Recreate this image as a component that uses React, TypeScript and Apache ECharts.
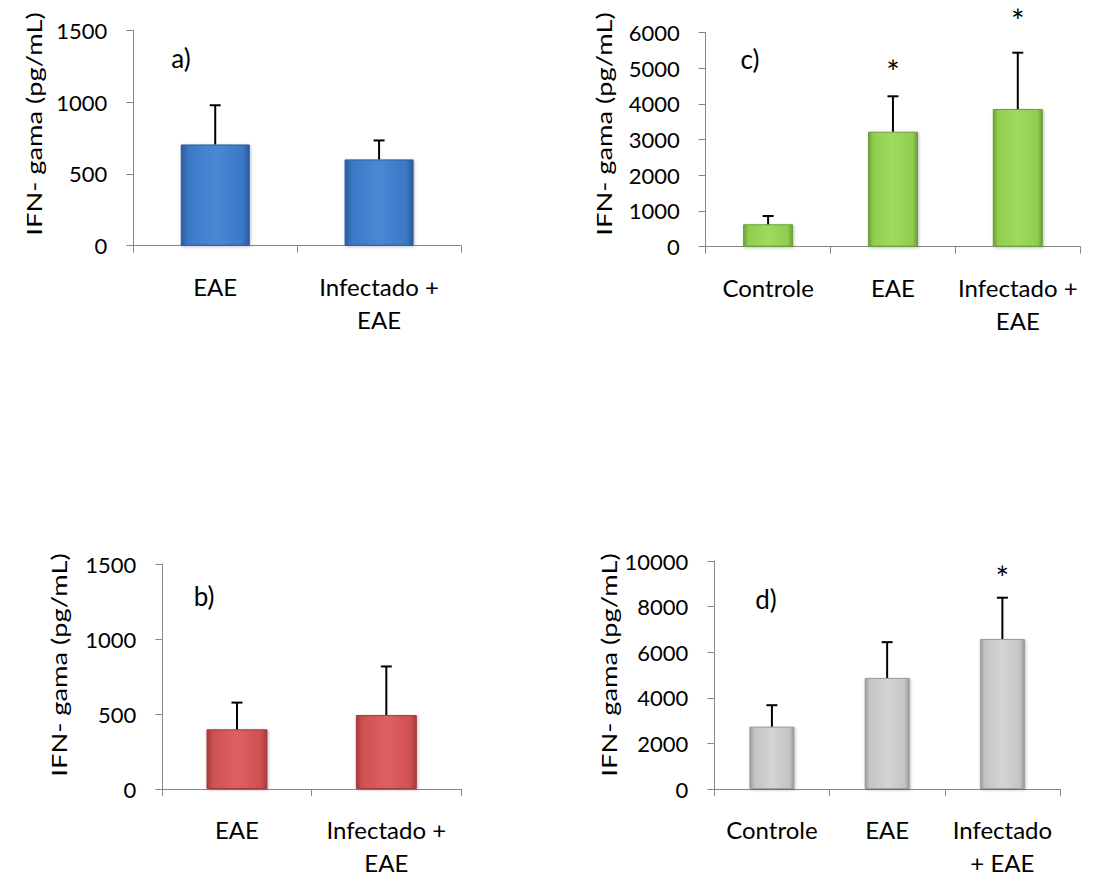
import React, { useEffect, useRef } from "react";
import * as echarts from "echarts";

const FONT = "Lato";

// ---- data ----
const categoriesA = ["EAE", "Infectado +\nEAE"];
const meansA = [705, 601];
const errorsA = [273, 132];

const categoriesB = ["EAE", "Infectado +\nEAE"];
const meansB = [398, 493];
const errorsB = [178, 324];

const categoriesC = ["Controle", "EAE", "Infectado +\nEAE"];
const meansC = [627, 3218, 3853];
const errorsC = [232, 991, 1576];
const starsC = ["", "*", "*"];
const starLevelC = [0, 5037, 6484];

const categoriesD = ["Controle", "EAE", "Infectado\n+ EAE"];
const meansD = [2735, 4872, 6581];
const errorsD = [940, 1568, 1809];
const starsD = ["", "", "*"];
const starLevelD = [0, 0, 9474];

const yMaxA = 1500, yStepA = 500;
const yMaxB = 1500, yStepB = 500;
const yMaxC = 6000, yStepC = 1000;
const yMaxD = 10000, yStepD = 2000;

const yTitle = "IFN- gama (pg/mL)";

// ---- styles ----
const palettes = {
  blue: { edge: "#2b5c9c", body: "#3b78c6", light: "#4a88d4" },
  red: { edge: "#a53b3b", body: "#cf5050", light: "#dc6262" },
  green: { edge: "#6c9f3a", body: "#8fce4e", light: "#9edb5e" },
  gray: { edge: "#9a9a9a", body: "#c4c4c4", light: "#d4d4d4" },
};

const panels = [
  { key: "a", cats: categoriesA, means: meansA, errs: errorsA, stars: null, starLevels: null,
    max: yMaxA, step: yStepA, pal: palettes.blue, barWidth: 69,
    grid: { left: 133.3, top: 30.3, width: 327.7, height: 215.4 },
    label: [181, 58], title: [33.5, 124] },
  { key: "c", cats: categoriesC, means: meansC, errs: errorsC, stars: starsC, starLevels: starLevelC,
    max: yMaxC, step: yStepC, pal: palettes.green, barWidth: 50,
    grid: { left: 705.7, top: 32.3, width: 374.5, height: 214.4 },
    label: [750, 59], title: [603.5, 124] },
  { key: "b", cats: categoriesB, means: meansB, errs: errorsB, stars: null, starLevels: null,
    max: yMaxB, step: yStepB, pal: palettes.red, barWidth: 61,
    grid: { left: 162.3, top: 564, width: 298.7, height: 228.3 },
    label: [204, 596], title: [58.5, 665] },
  { key: "d", cats: categoriesD, means: meansD, errs: errorsD, stars: starsD, starLevels: starLevelD,
    max: yMaxD, step: yStepD, pal: palettes.gray, barWidth: 45,
    grid: { left: 714.3, top: 561, width: 345.7, height: 234 },
    label: [766, 599], title: [608.5, 665] },
];

const AXIS_COLOR = "#878787";

export default function App() {
  const ref = useRef<HTMLDivElement>(null);

  useEffect(() => {
    if (!ref.current) return;
    const chart = echarts.init(ref.current, undefined, { renderer: "svg" });

    const grids: any[] = [];
    const xAxes: any[] = [];
    const yAxes: any[] = [];
    const series: any[] = [];
    const graphics: any[] = [];

    panels.forEach((p, gi) => {
      grids.push({ ...p.grid, containLabel: false });
      xAxes.push({
        type: "category",
        gridIndex: gi,
        data: p.cats,
        axisLine: { show: true, lineStyle: { color: AXIS_COLOR, width: 1 } },
        axisTick: { show: true, alignWithLabel: false, length: 7, lineStyle: { color: AXIS_COLOR } },
        axisLabel: {
          interval: 0, margin: 24, color: "#000", fontFamily: FONT, fontSize: 24, lineHeight: 33,
        },
        splitLine: { show: false },
      });
      yAxes.push({
        type: "value",
        gridIndex: gi,
        min: 0,
        max: p.max,
        interval: p.step,
        axisLine: { show: true, lineStyle: { color: AXIS_COLOR, width: 1 } },
        axisTick: { show: true, length: 7, lineStyle: { color: AXIS_COLOR } },
        axisLabel: {
          margin: 26, color: "#000", fontFamily: FONT, fontSize: 22,
          formatter: (v: number) => String(v),
        },
        splitLine: { show: false },
      });

      const pal = p.pal;
      series.push({
        type: "bar",
        xAxisIndex: gi,
        yAxisIndex: gi,
        data: p.means,
        barWidth: p.barWidth,
        itemStyle: {
          color: new echarts.graphic.LinearGradient(0, 0, 1, 0, [
            { offset: 0, color: pal.edge },
            { offset: 0.1, color: pal.body },
            { offset: 0.5, color: pal.light },
            { offset: 0.9, color: pal.body },
            { offset: 1, color: pal.edge },
          ]),
          borderColor: pal.edge,
          borderWidth: 1,
          shadowColor: "rgba(0,0,0,0.25)",
          shadowBlur: 3,
          shadowOffsetX: 1,
          shadowOffsetY: 1,
        },
        z: 2,
      });

      series.push({
        type: "custom",
        xAxisIndex: gi,
        yAxisIndex: gi,
        data: p.means.map((m, i) => [i, m, m + p.errs[i]]),
        z: 4,
        clip: false,
        renderItem: (params: any, api: any) => {
          const i = api.value(0);
          const lo = api.coord([i, api.value(1)]);
          const hi = api.coord([i, api.value(2)]);
          return {
            type: "group",
            children: [
              { type: "line", shape: { x1: lo[0], y1: lo[1], x2: hi[0], y2: hi[1] },
                style: { stroke: "#000", lineWidth: 2 } },
              { type: "line", shape: { x1: hi[0] - 5.5, y1: hi[1], x2: hi[0] + 5.5, y2: hi[1] },
                style: { stroke: "#000", lineWidth: 2 } },
            ],
          };
        },
      });

      if (p.stars && p.starLevels) {
        const stars = p.stars;
        series.push({
          type: "custom",
          xAxisIndex: gi,
          yAxisIndex: gi,
          data: p.starLevels.map((v, i) => [i, v]),
          z: 5,
          clip: false,
          renderItem: (params: any, api: any) => {
            const idx = params.dataIndex;
            if (!stars[idx]) return null;
            const pt = api.coord([api.value(0), api.value(1)]);
            return {
              type: "text",
              x: pt[0],
              y: pt[1] + 5,
              style: {
                text: stars[idx], fill: "#000", fontFamily: FONT, fontSize: 32,
                align: "center", verticalAlign: "middle",
              },
            };
          },
        });
      }

      graphics.push({
        type: "text",
        x: p.label[0],
        y: p.label[1],
        style: {
          text: p.key + ")", fill: "#000", fontFamily: FONT, fontSize: 26,
          align: "center", verticalAlign: "middle",
        },
      });
      graphics.push({
        type: "text",
        x: p.title[0],
        y: p.title[1],
        rotation: Math.PI / 2,
        scaleX: 1.3,
        style: {
          text: yTitle, fill: "#000", fontFamily: FONT, fontSize: 21,
          align: "center", verticalAlign: "middle",
        },
      });
    });

    chart.setOption({
      animation: false,
      backgroundColor: "#ffffff",
      grid: grids,
      xAxis: xAxes,
      yAxis: yAxes,
      series,
      graphic: graphics,
    });

    return () => chart.dispose();
  }, []);

  return (
    <div
      ref={ref}
      style={{ position: "fixed", left: 0, top: 0, width: 1093, height: 879, background: "#fff" }}
    />
  );
}
